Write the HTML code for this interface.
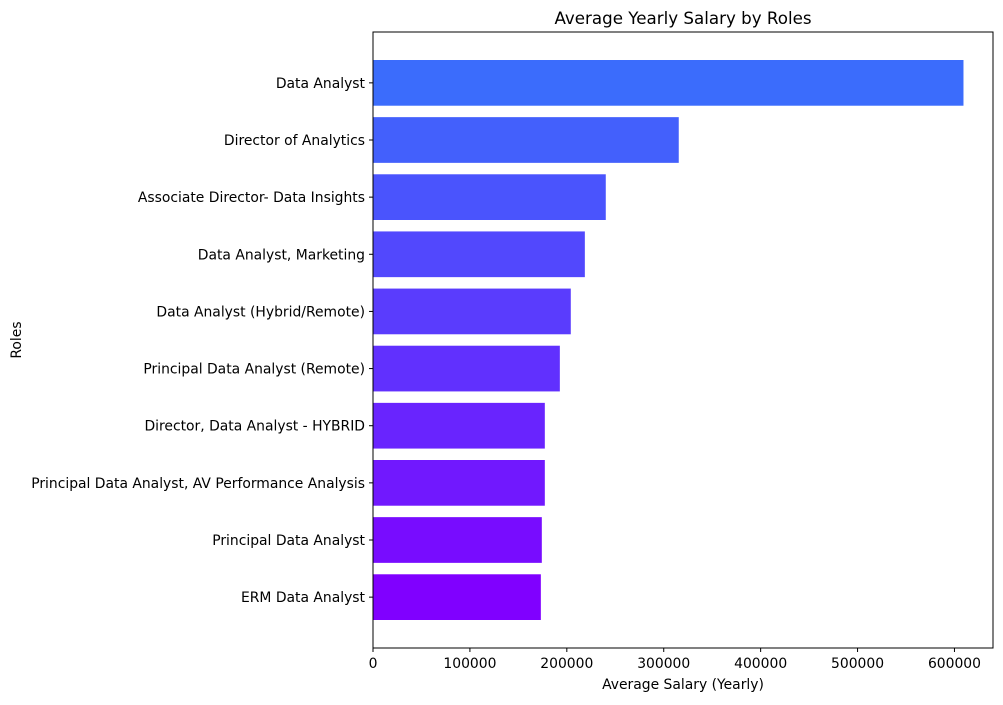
<!DOCTYPE html>
<html><head><meta charset="utf-8"><style>
body{margin:0;background:#fff;font-family:"DejaVu Sans",sans-serif;}
</style></head><body>
<svg id="chart" width="1003" height="701" xmlns="http://www.w3.org/2000/svg" font-family="DejaVu Sans, sans-serif"></svg>
<script>
const categories=["Data Analyst","Director of Analytics","Associate Director- Data Insights","Data Analyst, Marketing","Data Analyst (Hybrid/Remote)","Principal Data Analyst (Remote)","Director, Data Analyst - HYBRID","Principal Data Analyst, AV Performance Analysis","Principal Data Analyst","ERM Data Analyst"];
const values=[609300,315500,240200,218600,204100,192800,177300,177300,174200,173200];
const xTicks=[0,100000,200000,300000,400000,500000,600000];
const svg=document.getElementById('chart');
const NS='http://www.w3.org/2000/svg';
const L=373,R=993,T=32,B=648;
const xMax=Math.max(...values)*1.05;
const x=v=>L+(R-L)*v/xMax;
const n=categories.length;
const span=(n-1+0.8)*1.1;
const step=(B-T)/span;
const yc=i=>T+step*(0.4+(n-1+0.8)*0.05)+i*step;
function mk(t,a,txt){const e=document.createElementNS(NS,t);for(const k in a)e.setAttribute(k,a[k]);if(txt!==undefined)e.textContent=txt;svg.appendChild(e);return e;}
const c0=[59,108,252],c1=[128,0,255];
categories.forEach((c,i)=>{
 const f=i/(n-1);
 const col=`rgb(${c0.map((v,k)=>Math.round(v+(c1[k]-v)*f)).join(',')})`;
 const r=mk('rect',{x:x(0),y:yc(i)-step*0.4,width:x(values[i])-x(0),height:step*0.8,fill:col});
 
 
 mk('line',{x1:L-4,x2:L,y1:yc(i),y2:yc(i),stroke:'#000','stroke-width':1});
 const t=mk('text',{x:L-8,y:yc(i)+5,'text-anchor':'end','font-size':13.9},c);
 
 
});
xTicks.forEach(v=>{
 mk('line',{x1:x(v),x2:x(v),y1:B,y2:B+4,stroke:'#000','stroke-width':1});
 const t=mk('text',{x:x(v),y:B+20,'text-anchor':'middle','font-size':13.9},String(v));
 
 
});
const fr=mk('rect',{x:L,y:T,width:R-L,height:B-T,fill:'none',stroke:'#000','stroke-width':1});


const ti=mk('text',{x:(L+R)/2,y:24,'text-anchor':'middle','font-size':16.7},'Average Yearly Salary by Roles');


const xt=mk('text',{x:(L+R)/2,y:689,'text-anchor':'middle','font-size':13.9},'Average Salary (Yearly)');


const yt=mk('text',{x:21,y:(T+B)/2,'text-anchor':'middle','font-size':13.9,transform:`rotate(-90 21 ${(T+B)/2})`},'Roles');


</script>
</body></html>
